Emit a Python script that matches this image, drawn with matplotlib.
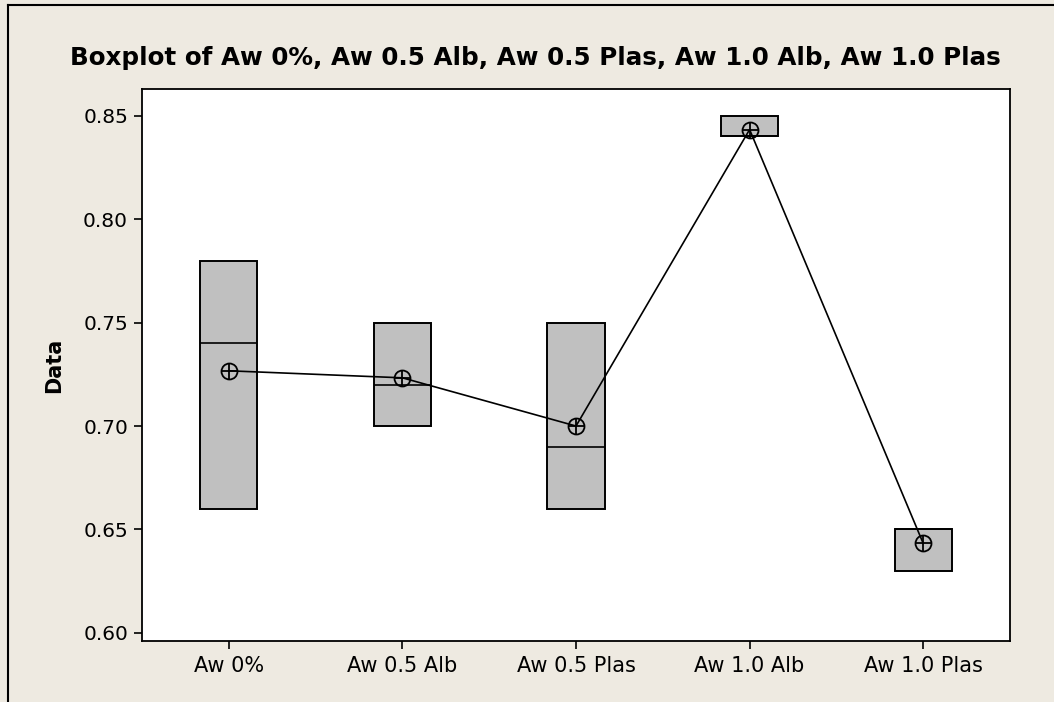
import matplotlib.pyplot as plt
from matplotlib.lines import Line2D

groups = ["Aw 0%", "Aw 0.5 Alb", "Aw 0.5 Plas", "Aw 1.0 Alb", "Aw 1.0 Plas"]
q1 = [0.66, 0.70, 0.66, 0.84, 0.63]
median = [0.74, 0.72, 0.69, 0.84, 0.65]
q3 = [0.78, 0.75, 0.75, 0.85, 0.65]
means = [0.7267, 0.7233, 0.70, 0.8433, 0.6433]
yticks = [0.60, 0.65, 0.70, 0.75, 0.80, 0.85]

bg = "#EEEAE1"
plt.rcParams['font.family'] = ['DejaVu Sans']

fig = plt.figure(figsize=(10.54, 7.02), dpi=100, facecolor=bg)
ax = fig.add_axes([142 / 1054, 1 - 641 / 702, (1010 - 142) / 1054, (641 - 89) / 702])

stats = []
for g, a, m, b in zip(groups, q1, median, q3):
    stats.append({"label": g, "q1": a, "med": m, "q3": b,
                  "whislo": a, "whishi": b, "fliers": []})

positions = list(range(1, len(groups) + 1))
ax.bxp(stats, positions=positions, widths=0.33, patch_artist=True,
       showcaps=False, showfliers=False,
       boxprops=dict(facecolor="#C0C0C0", edgecolor="black", linewidth=1.4),
       medianprops=dict(color="black", linewidth=1.2),
       whiskerprops=dict(color="black", linewidth=1.0))

# mean connect line with crossed-circle symbols
ax.plot(positions, means, color="black", linewidth=1.2, zorder=3)
ax.plot(positions, means, linestyle="none", marker="o", markersize=11.5,
        markerfacecolor="none", markeredgecolor="black", markeredgewidth=1.3, zorder=4)
ax.plot(positions, means, linestyle="none", marker="+", markersize=11.5,
        markeredgecolor="black", markeredgewidth=1.3, zorder=4)

ax.set_xlim(0.5, 5.5)
ax.set_ylim(0.5961, 0.8629)
ax.set_yticks(yticks)
ax.set_yticklabels([f"{v:.2f}" for v in yticks])
ax.set_xticks(positions)
ax.set_xticklabels(groups)
ax.tick_params(axis="y", labelsize=14.5, length=6, width=1.2, direction="out", pad=4)
ax.tick_params(axis="x", labelsize=15, length=6, width=1.2, direction="out", pad=5)
for s in ax.spines.values():
    s.set_linewidth(1.3)
ax.set_ylabel("Data", fontsize=15, fontweight="bold", labelpad=14)

fig.text(535 / 1054, 1 - 58 / 702,
         "Boxplot of Aw 0%, Aw 0.5 Alb, Aw 0.5 Plas, Aw 1.0 Alb, Aw 1.0 Plas",
         ha="center", va="center", fontsize=17.7, fontweight="bold")

# outer frame (left and top edges visible)
fig.add_artist(Line2D([8 / 1054, 8 / 1054], [0, 1 - 5 / 702], color="black", linewidth=1.5,
                      transform=fig.transFigure))
fig.add_artist(Line2D([8 / 1054, 1], [1 - 5 / 702, 1 - 5 / 702], color="black", linewidth=1.5,
                      transform=fig.transFigure))

fig.savefig("out.png", dpi=100, facecolor=bg)
